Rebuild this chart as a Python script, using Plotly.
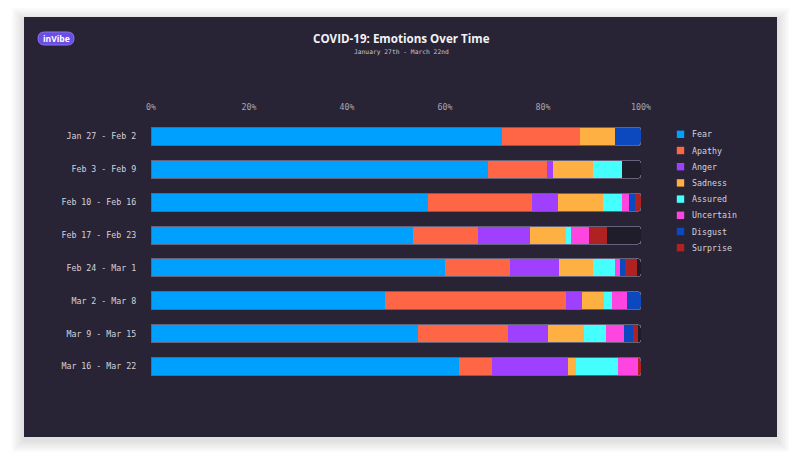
import plotly.graph_objects as go

weeks = ["Jan 27 - Feb 2", "Feb 3 - Feb 9", "Feb 10 - Feb 16", "Feb 17 - Feb 23",
         "Feb 24 - Mar 1", "Mar 2 - Mar 8", "Mar 9 - Mar 15", "Mar 16 - Mar 22"]

emotions = ["Fear", "Apathy", "Anger", "Sadness", "Assured", "Uncertain", "Disgust", "Surprise"]
colors = ["#00A0FF", "#FF6645", "#A040FF", "#FFB042", "#45FFFF", "#FF45DF", "#0D49BE", "#B02222"]

fear      = [71.6, 68.7, 56.5, 53.5, 60.0, 47.8, 54.4, 62.9]
apathy    = [16.0, 12.1, 21.2, 13.2, 13.3, 36.9, 18.4,  6.7]
anger     = [ 0.0,  1.2,  5.3, 10.6, 10.0,  3.3,  8.2, 15.4]
sadness   = [ 7.1,  8.2,  9.2,  7.3,  6.9,  4.5,  7.3,  1.8]
assured   = [ 0.0,  5.9,  4.0,  1.2,  4.5,  1.6,  4.6,  8.6]
uncertain = [ 0.0,  0.0,  1.3,  3.5,  1.1,  3.1,  3.7,  3.9]
disgust   = [ 5.3,  0.0,  1.2,  0.0,  1.0,  2.8,  1.8,  0.0]
surprise  = [ 0.0,  0.0,  1.2,  3.7,  2.3,  0.0,  0.9,  0.7]
series = [fear, apathy, anger, sadness, assured, uncertain, disgust, surprise]

full = [100] * len(weeks)

x_ticks = [0, 20, 40, 60, 80, 100]

CARD = "#282435"
MONO = "DejaVu Sans Mono"

fig = go.Figure()

# track (empty part of each bar)
fig.add_trace(go.Bar(y=weeks, x=full, orientation="h", yaxis="y",
                     marker=dict(color="#201d2a", line=dict(width=0), cornerradius=3),
                     showlegend=False, hoverinfo="skip"))

for name, vals, col in zip(emotions, series, colors):
    fig.add_trace(go.Bar(y=weeks, x=vals, orientation="h", name=name, yaxis="y2",
                         marker=dict(color=col, line=dict(width=0)),
                         showlegend=False))

# outline
fig.add_trace(go.Bar(y=weeks, x=full, orientation="h", yaxis="y3",
                     marker=dict(color="rgba(0,0,0,0)", line=dict(width=1, color="#67637a"), cornerradius=3),
                     showlegend=False, hoverinfo="skip"))

# page body margin is 8px; work in reference pixel coordinates and convert
OFF = 8
W, H = 801 - 2 * OFF, 469 - 2 * OFF
PL, PR, PT, PB = 151, 641, 120, 383   # plot area in reference px
L, T = PL - OFF, PT - OFF
R = W - (PR - OFF)
B = H - (PB - OFF)
pw, ph = PR - PL, PB - PT

def px(x):
    return (x - PL) / pw

def py(y):
    return (PB - y) / ph

shapes = []
# soft shadow
for i in range(6):
    g = 12 - 2 * i
    shapes.append(dict(type="rect", xref="paper", yref="paper", layer="below",
                       x0=px(24 - g), x1=px(777 + g), y0=py(437 + g + 3), y1=py(17 - g + 3),
                       fillcolor="rgba(0,0,0,0.018)", line=dict(width=0)))
shapes.append(dict(type="rect", xref="paper", yref="paper", layer="below",
                   x0=px(24), x1=px(777), y0=py(437), y1=py(17),
                   fillcolor=CARD, line=dict(width=0)))

# logo pill (rounded)
lx0, lx1, ly0, ly1, r = 38, 74, 32, 45, 6.5
def P(x, y):
    return f"{px(x):.5f},{py(y):.5f}"
pill = (f"M {P(lx0 + r, ly0)} L {P(lx1 - r, ly0)} Q {P(lx1, ly0)} {P(lx1, ly0 + r)} "
        f"Q {P(lx1, ly1)} {P(lx1 - r, ly1)} L {P(lx0 + r, ly1)} Q {P(lx0, ly1)} {P(lx0, ly1 - r)} "
        f"Q {P(lx0, ly0)} {P(lx0 + r, ly0)} Z")
shapes.append(dict(type="path", xref="paper", yref="paper", path=pill,
                   fillcolor="#6b4fe3", line=dict(color="#8a74f2", width=1)))

annotations = [
    dict(text="<b>COVID-19: Emotions Over Time</b>", x=px(401), y=py(38.5), xref="paper", yref="paper",
         showarrow=False, xanchor="center", yanchor="middle",
         font=dict(family="Open Sans", size=11.6, color="#f2f2f5")),
    dict(text="January 27th - March 22nd", x=px(401), y=py(52), xref="paper", yref="paper",
         showarrow=False, xanchor="center", yanchor="middle",
         font=dict(family=MONO, size=6.3, color="#c8c6d0")),
    dict(text="<b>inVibe</b>", x=px(56), y=py(38.5), xref="paper", yref="paper",
         showarrow=False, xanchor="center", yanchor="middle",
         font=dict(family="Open Sans", size=8.5, color="#ffffff")),
]

# custom legend
LEG_X, LEG_Y0, LEG_DY, SQ = 680.5, 134.3, 16.2, 7.4
for i, (name, col) in enumerate(zip(emotions, colors)):
    yc = LEG_Y0 + i * LEG_DY
    shapes.append(dict(type="rect", xref="paper", yref="paper",
                       x0=px(LEG_X - SQ / 2), x1=px(LEG_X + SQ / 2),
                       y0=py(yc + SQ / 2), y1=py(yc - SQ / 2),
                       fillcolor=col, line=dict(width=0)))
    annotations.append(dict(text=name, x=px(690), y=py(yc), xref="paper", yref="paper",
                            showarrow=False, xanchor="left", yanchor="middle",
                            font=dict(family=MONO, size=8.3, color="#d4d2dc")))

fig.update_layout(
    width=W, height=H,
    margin=dict(l=L, r=R, t=T, b=B),
    paper_bgcolor="#ffffff",
    plot_bgcolor="rgba(0,0,0,0)",
    barmode="stack",
    bargap=0.45,
    shapes=shapes,
    annotations=annotations,
    xaxis=dict(range=[0, 100], side="top", tickvals=x_ticks, ticktext=[f"{v}%" for v in x_ticks],
               showgrid=False, zeroline=False, showline=False, ticks="outside", ticklen=6,
               tickcolor="rgba(0,0,0,0)",
               tickfont=dict(family=MONO, size=8.3, color="#a9a7b3"), fixedrange=True),
    yaxis=dict(categoryorder="array", categoryarray=weeks, autorange="reversed",
               showgrid=False, zeroline=False, showline=False, ticks="outside", ticklen=12,
               tickcolor="rgba(0,0,0,0)",
               tickfont=dict(family=MONO, size=8.3, color="#d4d2dc")),
    yaxis2=dict(overlaying="y", matches="y", visible=False),
    yaxis3=dict(overlaying="y", matches="y", visible=False),
    showlegend=False,
)

fig.write_html("out.html")
